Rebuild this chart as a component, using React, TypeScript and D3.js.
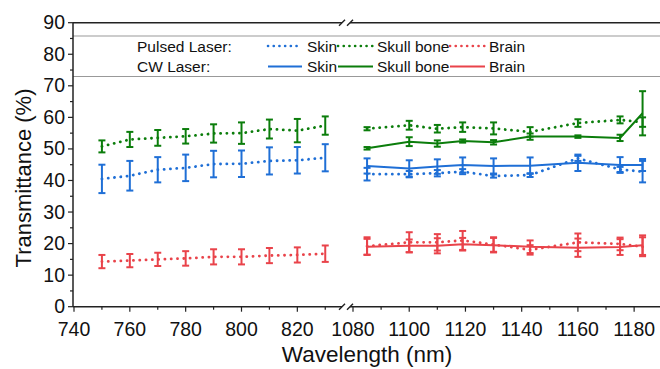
import React from 'react';
import { scaleLinear, line } from 'd3';

// wavelengths (nm)
const wlLeft = [750, 760, 770, 780, 790, 800, 810, 820, 830];
const wlRight = [1085, 1100, 1110, 1119, 1130, 1143, 1160, 1175, 1183];

// pulsed laser, 750-830 nm
const skinPulsedL = [40.5, 41.5, 43.4, 44.0, 45.2, 45.3, 46.2, 46.4, 47.2];
const skinPulsedLErr = [4.5, 4.7, 4.0, 4.2, 4.2, 4.2, 4.3, 4.2, 4.3];
const skullPulsedL = [50.8, 53.0, 53.5, 54.0, 54.9, 55.0, 56.3, 55.8, 57.4];
const skullPulsedLErr = [1.9, 2.4, 2.5, 2.3, 2.9, 3.4, 3.0, 3.7, 2.9];
const brainPulsedL = [14.3, 14.6, 15.0, 15.3, 15.8, 15.8, 16.2, 16.4, 16.8];
const brainPulsedLErr = [2.1, 2.1, 2.1, 2.3, 2.4, 2.4, 2.4, 2.4, 2.6];

// pulsed laser, 1085-1183 nm
const skinPulsedR = [42.0, 42.0, 42.3, 42.8, 41.4, 41.7, 47.0, 43.5, 42.8];
const skinPulsedRErr = [2.0, 1.0, 1.0, 0.8, 0.5, 0.6, 0.8, 0.8, 3.4];
const skullPulsedR = [56.4, 57.5, 56.4, 56.9, 56.5, 55.4, 58.2, 59.2, 58.5];
const skullPulsedRErr = [0.5, 1.4, 1.2, 1.5, 1.9, 1.5, 1.2, 1.1, 1.5];
const brainPulsedR = [19.2, 20.4, 20.4, 21.0, 19.7, 18.0, 20.4, 19.9, 19.0];
const brainPulsedRErr = [2.8, 3.2, 2.6, 3.0, 2.3, 1.5, 2.8, 2.0, 3.0];

// CW laser, 1085-1183 nm
const skinCW = [44.6, 43.8, 44.4, 44.9, 44.6, 44.7, 45.6, 44.9, 44.9];
const skinCWErr = [2.4, 2.6, 2.3, 2.4, 2.4, 2.6, 2.6, 2.5, 1.9];
const skullCW = [50.2, 52.3, 51.7, 52.5, 52.1, 53.9, 53.9, 53.5, 61.3];
const skullCWErr = [0.4, 1.4, 1.0, 0.5, 0.7, 1.0, 0.4, 1.0, 7.0];
const brainCW = [19.0, 19.3, 19.3, 19.8, 19.5, 19.0, 18.7, 18.9, 19.5];
const brainCWErr = [2.5, 2.0, 2.4, 2.0, 2.3, 2.0, 2.9, 2.5, 3.1];

const leftTicks = [740, 760, 780, 800, 820];
const rightTicks = [1080, 1100, 1120, 1140, 1160, 1180];
const yTicks = [0, 10, 20, 30, 40, 50, 60, 70, 80, 90];

const BLUE = '#1f6fd6';
const GREEN = '#0b7d0b';
const RED = '#e9434a';
const FONT = "'Liberation Sans', Arial, sans-serif";

const width = 660;
const height = 369;

const xL = scaleLinear().domain([740, 836]).range([74, 342]);
const xR = scaleLinear().domain([1080, 1189.2]).range([353, 660]);
const y = scaleLinear().domain([0, 90]).range([306.7, 22.7]);

const Series = ({ xs, vals, errs, x, color, dotted }) => {
  const pts = xs.map((w, i) => [x(w), y(vals[i])]);
  const path = line()(pts);
  return (
    <g>
      {xs.map((w, i) => {
        const cx = x(w);
        const t = y(vals[i] + errs[i]);
        const b = y(vals[i] - errs[i]);
        return (
          <g key={i} stroke={color} strokeWidth={2}>
            <line x1={cx} x2={cx} y1={t} y2={b} />
            <line x1={cx - 3.5} x2={cx + 3.5} y1={t} y2={t} />
            <line x1={cx - 3.5} x2={cx + 3.5} y1={b} y2={b} />
          </g>
        );
      })}
      <path
        d={path}
        fill="none"
        stroke={color}
        strokeWidth={dotted ? 2.8 : 2}
        strokeDasharray={dotted ? '0.1 6.2' : undefined}
        strokeLinecap={dotted ? 'round' : 'butt'}
      />
    </g>
  );
};

const App = () => {
  const minorY = [];
  for (let v = 5; v < 90; v += 10) minorY.push(v);
  const minorL = [750, 770, 790, 810, 830];
  const minorR = [1090, 1110, 1130, 1150, 1170];

  const legendRows = [
    { label: 'Pulsed Laser:', ty: 51.5, dotted: true },
    { label: 'CW Laser:', ty: 72, dotted: false },
  ];
  const legendItems = [
    { name: 'Skin', color: BLUE, x1: 268, x2: 302, tx: 307 },
    { name: 'Skull bone', color: GREEN, x1: 338, x2: 373, tx: 377 },
    { name: 'Brain', color: RED, x1: 450, x2: 485, tx: 489 },
  ];

  return (
    <svg width={width} height={height} style={{ position: 'absolute', left: 0, top: 0, background: '#fff' }}
      fontFamily={FONT}>
      {/* legend frame */}
      <line x1={73} x2={660} y1={36} y2={36} stroke="#999" strokeWidth={1} />
      <line x1={73} x2={660} y1={76.5} y2={76.5} stroke="#999" strokeWidth={1} />

      {legendRows.map((r) => (
        <g key={r.label}>
          <text x={137} y={r.ty} fontSize={15.5} fill="#111">{r.label}</text>
          {legendItems.map((it) => (
            <g key={it.name}>
              <line x1={it.x1} x2={it.x2} y1={r.ty - 5.5} y2={r.ty - 5.5} stroke={it.color}
                strokeWidth={r.dotted ? 2.6 : 2}
                strokeDasharray={r.dotted ? '0.1 5.6' : undefined}
                strokeLinecap={r.dotted ? 'round' : 'butt'} />
              <text x={it.tx} y={r.ty} fontSize={15.5} fill="#111">{it.name}</text>
            </g>
          ))}
        </g>
      ))}

      {/* data */}
      <Series xs={wlLeft} vals={skullPulsedL} errs={skullPulsedLErr} x={xL} color={GREEN} dotted />
      <Series xs={wlLeft} vals={skinPulsedL} errs={skinPulsedLErr} x={xL} color={BLUE} dotted />
      <Series xs={wlLeft} vals={brainPulsedL} errs={brainPulsedLErr} x={xL} color={RED} dotted />

      <Series xs={wlRight} vals={skullPulsedR} errs={skullPulsedRErr} x={xR} color={GREEN} dotted />
      <Series xs={wlRight} vals={skullCW} errs={skullCWErr} x={xR} color={GREEN} />
      <Series xs={wlRight} vals={skinPulsedR} errs={skinPulsedRErr} x={xR} color={BLUE} dotted />
      <Series xs={wlRight} vals={skinCW} errs={skinCWErr} x={xR} color={BLUE} />
      <Series xs={wlRight} vals={brainPulsedR} errs={brainPulsedRErr} x={xR} color={RED} dotted />
      <Series xs={wlRight} vals={brainCW} errs={brainCWErr} x={xR} color={RED} />

      {/* axes */}
      <g stroke="#222" strokeWidth={1.5} fill="none">
        <line x1={73} x2={73} y1={y(90)} y2={y(0)} />
        <line x1={73} x2={342} y1={y(0)} y2={y(0)} />
        <line x1={350} x2={660} y1={y(0)} y2={y(0)} />
        <line x1={73} x2={342} y1={y(90)} y2={y(90)} />
        <line x1={350} x2={660} y1={y(90)} y2={y(90)} />
        {[y(0), y(90)].map((yy, k) => (
          <g key={k}>
            <line x1={339} x2={345} y1={yy + 3} y2={yy - 3} />
            <line x1={347} x2={353} y1={yy + 3} y2={yy - 3} />
          </g>
        ))}
      </g>
      <g stroke="#222" strokeWidth={1.2}>
        {yTicks.map((v) => <line key={v} x1={68} x2={73} y1={y(v)} y2={y(v)} />)}
        {minorY.map((v) => <line key={v} x1={70} x2={73} y1={y(v)} y2={y(v)} />)}
        {leftTicks.map((v) => <line key={v} x1={xL(v)} x2={xL(v)} y1={y(0)} y2={y(0) + 5} />)}
        {minorL.map((v) => <line key={v} x1={xL(v)} x2={xL(v)} y1={y(0)} y2={y(0) + 3} />)}
        {rightTicks.map((v) => <line key={v} x1={xR(v)} x2={xR(v)} y1={y(0)} y2={y(0) + 5} />)}
        {minorR.map((v) => <line key={v} x1={xR(v)} x2={xR(v)} y1={y(0)} y2={y(0) + 3} />)}
      </g>
      <g fontSize={19.5} fill="#111">
        {yTicks.map((v) => (
          <text key={v} x={65} y={y(v) + 6.5} textAnchor="end">{v}</text>
        ))}
        {leftTicks.map((v) => (
          <text key={v} x={xL(v)} y={335.5} textAnchor="middle">{v}</text>
        ))}
        {rightTicks.map((v) => (
          <text key={v} x={xR(v)} y={335.5} textAnchor="middle">{v}</text>
        ))}
      </g>
      <text transform="translate(31,178) rotate(-90)" textAnchor="middle" fontSize={22} fill="#111">
        Transmittance (%)
      </text>
      <text x={367} y={362} textAnchor="middle" fontSize={22.5} fill="#111">Wavelength (nm)</text>
    </svg>
  );
};

export default App;
